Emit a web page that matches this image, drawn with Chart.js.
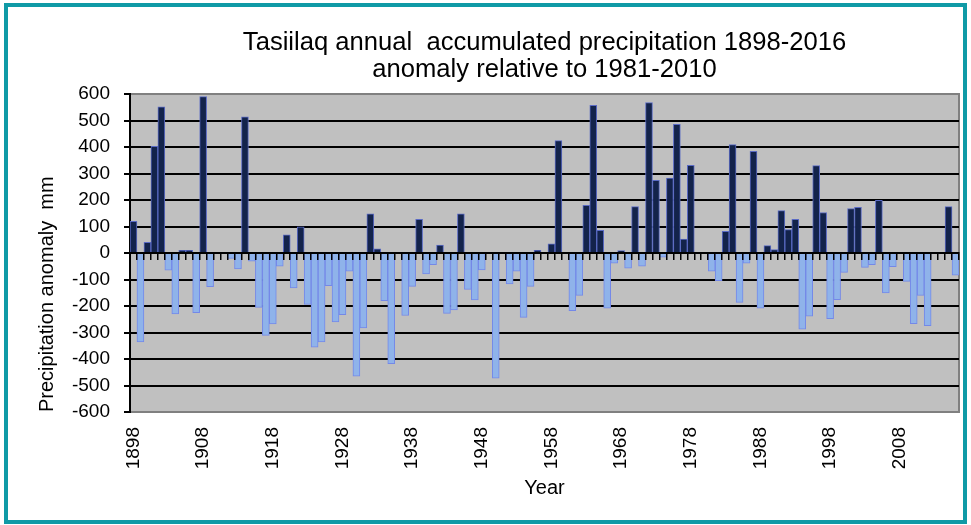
<!DOCTYPE html>
<html>
<head>
<meta charset="utf-8">
<title>Tasiilaq precipitation anomaly</title>
<script src="https://cdn.jsdelivr.net/npm/chart.js@4.4.1/dist/chart.umd.min.js"></script>
<style>
  html, body { margin: 0; padding: 0; background: #fff; }
  #wrap { position: relative; width: 971px; height: 525px; }
  #wrap canvas { position: absolute; left: 0; top: 0; }
  #frame {
    position: absolute; left: 4px; top: 3px; width: 963px; height: 521px;
    box-sizing: border-box; border: 4px solid #0f9aa6; pointer-events: none;
  }
</style>
</head>
<body>
<div id="wrap">
  <canvas id="precipChart" width="971" height="525"></canvas>
  <div id="frame"></div>
</div>
<script>
// years on the category axis
const years = [
  1898, 1899, 1900, 1901, 1902, 1903, 1904, 1905, 1906, 1907,
  1908, 1909, 1910, 1911, 1912, 1913, 1914, 1915, 1916, 1917,
  1918, 1919, 1920, 1921, 1922, 1923, 1924, 1925, 1926, 1927,
  1928, 1929, 1930, 1931, 1932, 1933, 1934, 1935, 1936, 1937,
  1938, 1939, 1940, 1941, 1942, 1943, 1944, 1945, 1946, 1947,
  1948, 1949, 1950, 1951, 1952, 1953, 1954, 1955, 1956, 1957,
  1958, 1959, 1960, 1961, 1962, 1963, 1964, 1965, 1966, 1967,
  1968, 1969, 1970, 1971, 1972, 1973, 1974, 1975, 1976, 1977,
  1978, 1979, 1980, 1981, 1982, 1983, 1984, 1985, 1986, 1987,
  1988, 1989, 1990, 1991, 1992, 1993, 1994, 1995, 1996, 1997,
  1998, 1999, 2000, 2001, 2002, 2003, 2004, 2005, 2006, 2007,
  2008, 2009, 2010, 2011, 2012, 2013, 2014, 2015, 2016
];

// annual precipitation anomaly (mm), null = no bar
const anomaly = [
   120, -336,   40,  403,  552,  -65, -230,   10,   10, -225,
   590, -127, null, null,  -20,  -60,  514,  -31, -205, -311,
  -268,  -50,   69, -132,   99, -194, -355, -336, -123, -260,
  -233,  -69, -465, -283,  148,   16, -180, -418, null, -236,
  -126,  127,  -79,  -44,   30, -228, -215,  148, -137, -177,
   -64, null, -472, null, -117,  -69, -243, -126,   10,    3,
    35,  424, null, -218, -160,  180,  557,   86, -208,  -38,
     9,  -57,  175,  -50,  568,  274,  -16,  283,  486,   53,
   331, null, null,  -69, -104,   82,  409, -186,  -38,  384,
  -208,   28,   13,  160,   88,  127, -287, -238,  330,  153,
  -248, -176,  -73,  168,  172,  -54,  -44,  199, -151,  -52,
  null, -107, -267, -160, -274, null, null,  175,  -84
];

// labelled years on the x axis
const tickYears = [1898, 1908, 1918, 1928, 1938, 1948, 1958, 1968, 1978, 1988, 1998, 2008];

const titleLines = [
  'Tasiilaq annual  accumulated precipitation 1898-2016',
  'anomaly relative to 1981-2010'
];

const POS_FILL = '#13234b';
const POS_EDGE = '#5a6ac4';
const NEG_FILL = '#8fb3ea';
const NEG_EDGE = '#7488e8';

Chart.defaults.font.family = '"Liberation Sans", Arial, sans-serif';
Chart.defaults.color = '#000';

// grey plot background with a grey frame, like the spreadsheet chart
const plotFrame = {
  id: 'plotFrame',
  beforeDraw(chart) {
    const { ctx, chartArea: a } = chart;
    ctx.save();
    ctx.fillStyle = '#c0c0c0';
    ctx.fillRect(a.left, a.top, a.width, a.height);
    ctx.strokeStyle = '#808080';
    ctx.lineWidth = 2;
    ctx.strokeRect(a.left, a.top, a.width, a.height);
    ctx.restore();
  }
};

new Chart(document.getElementById('precipChart'), {
  type: 'bar',
  data: {
    labels: years,
    datasets: [{
      label: 'Anomaly',
      data: anomaly,
      backgroundColor: (c) => (c.raw >= 0 ? POS_FILL : NEG_FILL),
      borderColor: (c) => (c.raw >= 0 ? POS_EDGE : NEG_EDGE),
      borderWidth: 1,
      barPercentage: 1,
      categoryPercentage: 1
    }]
  },
  options: {
    responsive: false,
    animation: false,
    devicePixelRatio: 1,
    layout: { padding: { left: 31, right: 12, top: 29, bottom: 21 } },
    plugins: {
      legend: { display: false },
      tooltip: { enabled: false },
      title: {
        display: true,
        fullSize: false,
        text: titleLines,
        color: '#000',
        font: { size: 25.6, weight: 'normal', lineHeight: 1.055 },
        padding: { top: 0, bottom: 11 }
      }
    },
    scales: {
      x: {
        type: 'category',
        offset: true,
        grid: { display: false, drawTicks: false },
        border: { display: false },
        ticks: {
          autoSkip: false,
          minRotation: 90,
          maxRotation: 90,
          padding: 15,
          font: { size: 19 },
          callback(v, i) {
            return tickYears.includes(years[i]) ? String(years[i]) : '';
          }
        },
        title: { display: true, text: 'Year', font: { size: 20 }, padding: { top: 4, bottom: 4 } },
        afterFit(s) {
          s.height = 92;
          s.paddingLeft = 0;
          s.paddingRight = 0;
        }
      },
      // zero line with the category tick marks
      x2: {
        type: 'category',
        position: { y: 0 },
        offset: true,
        grid: { drawOnChartArea: false, offset: true, tickLength: 6, color: '#000', lineWidth: 1.5, z: 1 },
        border: { display: true, color: '#000', width: 2, z: 1 },
        ticks: { display: false },
        afterFit(s) {
          s.height = 0;
          s.paddingLeft = 0;
          s.paddingRight = 0;
        }
      },
      y: {
        min: -600,
        max: 600,
        ticks: { stepSize: 100, padding: 14, font: { size: 19 } },
        grid: {
          color: (c) => (c.tick && Math.abs(c.tick.value) === 600 ? '#808080' : '#000'),
          tickColor: '#000',
          lineWidth: 2,
          tickLength: 6
        },
        border: { color: '#000', width: 2 },
        title: {
          display: true,
          text: 'Precipitation anomaly  mm',
          align: 'start',
          font: { size: 20 },
          padding: { top: 4, bottom: 4 }
        },
        afterFit(s) { s.width = 99; }
      }
    }
  },
  plugins: [plotFrame]
});
</script>
</body>
</html>
